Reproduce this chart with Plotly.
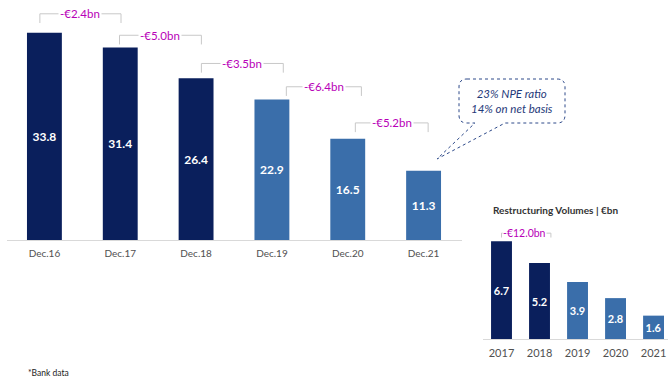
import plotly.graph_objects as go

# ---- data ----
main_categories = ["Dec.16", "Dec.17", "Dec.18", "Dec.19", "Dec.20", "Dec.21"]
main_values = [33.8, 31.4, 26.4, 22.9, 16.5, 11.3]
main_changes = ["-€2.4bn", "-€5.0bn", "-€3.5bn", "-€6.4bn", "-€5.2bn"]

small_categories = ["2017", "2018", "2019", "2020", "2021"]
small_values = [6.7, 5.2, 3.9, 2.8, 1.6]
small_change = "-€12.0bn"

callout_lines = ["23% NPE ratio", "14% on net basis"]
small_title = "Restructuring Volumes | €bn"
footnote = "*Bank data"

# ---- styling ----
W, H = 668, 388
DARK = "#0A1F5C"
LIGHT = "#3A6EAA"
MAGENTA = "#B800B8"
GRAY_LINE = "#C8C8C8"
TEXT = "#505050"
FONT = "Lato"

def px(x):
    return x / W

def py(y):
    return 1 - y / H

main_colors = [DARK, DARK, DARK, LIGHT, LIGHT, LIGHT]
small_colors = [DARK, DARK, LIGHT, LIGHT, LIGHT]

fig = go.Figure()

fig.add_trace(go.Bar(
    x=main_categories, y=main_values, marker_color=main_colors,
    marker_line_width=0,
    text=[f"{v:.1f}" for v in main_values], textposition="inside",
    insidetextanchor="middle", textangle=0, constraintext="none",
    textfont=dict(color="white", size=12, family=FONT, weight="bold"),
    xaxis="x", yaxis="y", width=0.46, hoverinfo="skip",
))

fig.add_trace(go.Bar(
    x=small_categories, y=small_values, marker_color=small_colors,
    marker_line_width=0,
    text=[f"{v:.1f}" for v in small_values], textposition="inside",
    insidetextanchor="middle", textangle=0, constraintext="none",
    textfont=dict(color="white", size=11, family=FONT, weight="bold"),
    xaxis="x2", yaxis="y2", width=0.55, hoverinfo="skip",
))

main_scale = 240 / 6.13  # y range top
fig.update_layout(
    width=W, height=H, margin=dict(l=0, r=0, t=0, b=0, autoexpand=False),
    paper_bgcolor="white", plot_bgcolor="white", showlegend=False,
    font=dict(family=FONT, color=TEXT),
    xaxis=dict(domain=[px(6.5), px(461.5)], type="category", anchor="y",
               range=[-0.5, 5.5], showgrid=False, showline=True,
               linecolor="#D9D9D9", linewidth=1, ticks="", automargin=False,
               ticklabelstandoff=4,
               tickfont=dict(size=10, color=TEXT, family=FONT)),
    yaxis=dict(domain=[py(240), 1], range=[0, main_scale], visible=False,
               anchor="x", showgrid=False, zeroline=False, automargin=False),
    xaxis2=dict(domain=[px(482.5), 1], type="category", anchor="y2",
                range=[-0.5, 4.38], showgrid=False, showline=True,
                linecolor="#D9D9D9", linewidth=1, ticks="", automargin=False,
                ticklabelstandoff=4,
                tickfont=dict(size=11, color=TEXT, family=FONT)),
    yaxis2=dict(domain=[py(339), py(190)], range=[0, 149 / 14.6],
                anchor="x2", visible=False, showgrid=False, zeroline=False,
                automargin=False),
)

shapes = []
annotations = []

# brackets for main chart
left_off = [-0.06, -0.01, 0.07, 0.19, 0.10]
right_off = [0.01, 0.07, 0.15, 0.18, 0.06]
lift = [3.1, 2.0, 2.4, 2.1, 2.6]
for i, lab in enumerate(main_changes):
    x0 = i + left_off[i]
    x1 = i + 1 + right_off[i]
    ytop = main_values[i] + lift[i]
    ybot = ytop - 1.5
    shapes.append(dict(type="path", xref="x", yref="y",
                       path=f"M {x0},{ybot} L {x0},{ytop} L {x1},{ytop} L {x1},{ybot}",
                       line=dict(color=GRAY_LINE, width=1)))
    annotations.append(dict(x=(x0 + x1) / 2, y=ytop, xref="x", yref="y",
                            text=lab, showarrow=False, bgcolor="white",
                            borderpad=1, xanchor="center", yanchor="middle",
                            font=dict(color=MAGENTA, size=11.5, family=FONT)))

# small bracket
sx0, sx1 = 0.0, 1.3
sytop = small_values[0] + 0.55
sybot = sytop - 0.3
shapes.append(dict(type="path", xref="x2", yref="y2",
                   path=f"M {sx0},{sybot} L {sx0},{sytop} L {sx1},{sytop} L {sx1},{sybot}",
                   line=dict(color=GRAY_LINE, width=1)))
annotations.append(dict(x=0.6, y=sytop, xref="x2", yref="y2",
                        text=small_change, showarrow=False, bgcolor="white",
                        borderpad=0, xanchor="center", yanchor="middle",
                        font=dict(color=MAGENTA, size=10.5, family=FONT)))

# callout box with tail (paper coords)
L, T, R, B, r = 459, 79, 565, 123, 8
tx0, tx1, tipx, tipy = 475, 505, 437, 159
pts = (f"M {px(L + r)},{py(T)} L {px(R - r)},{py(T)} "
       f"Q {px(R)},{py(T)} {px(R)},{py(T + r)} "
       f"L {px(R)},{py(B - r)} Q {px(R)},{py(B)} {px(R - r)},{py(B)} "
       f"L {px(tx1)},{py(B)} L {px(tipx)},{py(tipy)} L {px(tx0)},{py(B)} "
       f"L {px(L + r)},{py(B)} Q {px(L)},{py(B)} {px(L)},{py(B - r)} "
       f"L {px(L)},{py(T + r)} Q {px(L)},{py(T)} {px(L + r)},{py(T)} Z")
shapes.append(dict(type="path", xref="paper", yref="paper", path=pts,
                   line=dict(color="#2E4A8A", width=1, dash="dot"),
                   fillcolor="white"))
annotations.append(dict(x=px(512), y=py(101), xref="paper", yref="paper",
                        text="<i>" + "<br>".join(callout_lines) + "</i>",
                        showarrow=False, align="center",
                        xanchor="center", yanchor="middle",
                        font=dict(color="#1F3A7A", size=11.5, family=FONT)))

annotations.append(dict(x=px(491), y=py(210), xref="paper", yref="paper",
                        text="<b>" + small_title + "</b>", showarrow=False,
                        xanchor="left", yanchor="middle",
                        font=dict(color="#333333", size=10, family=FONT)))

annotations.append(dict(x=px(26), y=py(373), xref="paper", yref="paper",
                        text=footnote, showarrow=False,
                        xanchor="left", yanchor="middle",
                        font=dict(color="#222222", size=8.5, family=FONT)))

fig.update_layout(shapes=shapes, annotations=annotations)

fig.write_html("out.html", config={"displayModeBar": False},
               post_script="document.body.style.margin='0';document.body.style.overflow='hidden';")
